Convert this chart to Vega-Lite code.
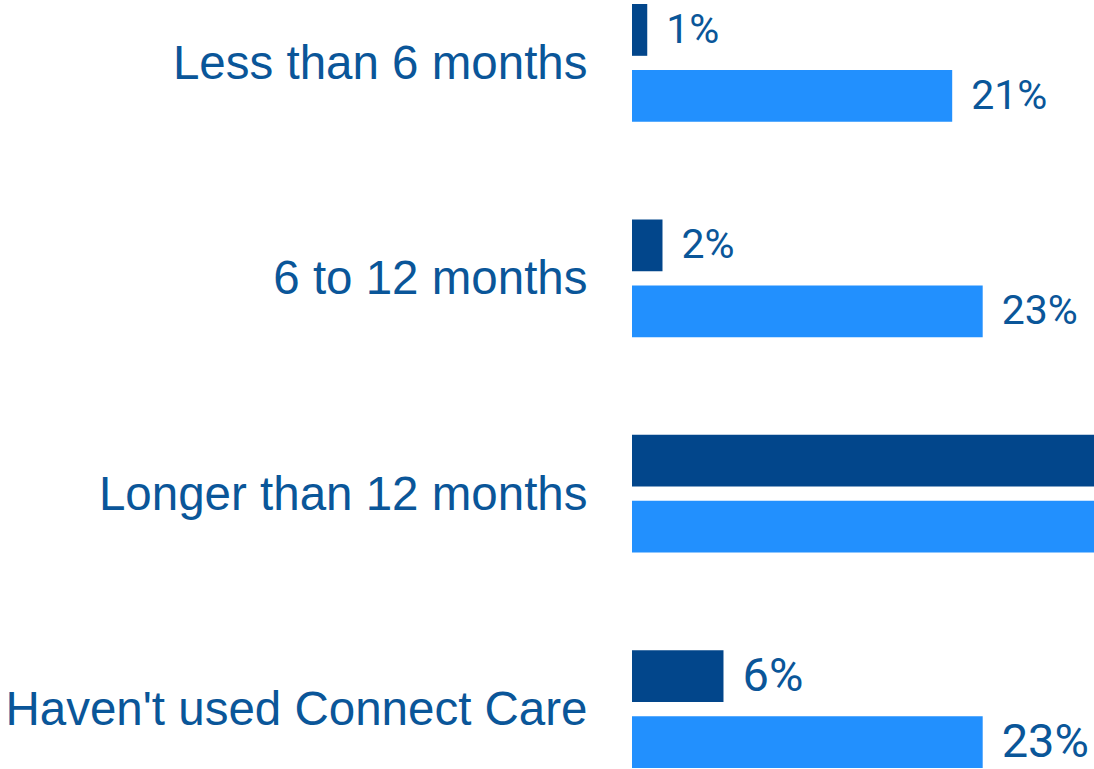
{
  "$schema": "https://vega.github.io/schema/vega-lite/v6.json",
  "autosize": {"type": "none"},
  "padding": {"left": 632, "top": 4, "right": 0, "bottom": 1},
  "width": 462,
  "height": 764,
  "background": "white",
  "config": {"view": {"stroke": null}},
  "data": {
    "values": [
      {"category": "Less than 6 months", "series": "A", "value": 1},
      {"category": "Less than 6 months", "series": "B", "value": 21},
      {"category": "6 to 12 months", "series": "A", "value": 2},
      {"category": "6 to 12 months", "series": "B", "value": 23},
      {"category": "Longer than 12 months", "series": "A", "value": 91},
      {"category": "Longer than 12 months", "series": "B", "value": 33},
      {"category": "Haven't used Connect Care", "series": "A", "value": 6},
      {"category": "Haven't used Connect Care", "series": "B", "value": 23}
    ]
  },
  "encoding": {
    "y": {
      "field": "category",
      "type": "nominal",
      "sort": ["Less than 6 months", "6 to 12 months", "Longer than 12 months", "Haven't used Connect Care"],
      "scale": {"paddingInner": 0.453, "paddingOuter": 0},
      "axis": {
        "title": null,
        "domain": false,
        "ticks": false,
        "labelFont": "Liberation Sans",
        "labelFontSize": 47.5,
        "labelColor": "#0a5699",
        "labelPadding": 45,
        "labelOffset": 2,
        "labelLimit": 700
      }
    },
    "yOffset": {
      "field": "series",
      "type": "nominal",
      "sort": ["A", "B"],
      "scale": {"paddingInner": 0.215, "paddingOuter": 0}
    },
    "x": {
      "field": "value",
      "type": "quantitative",
      "scale": {"domain": [0, 30.3], "nice": false, "zero": true},
      "axis": null
    }
  },
  "layer": [
    {
      "mark": {"type": "bar", "clip": true},
      "encoding": {
        "color": {
          "field": "series",
          "type": "nominal",
          "scale": {"domain": ["A", "B"], "range": ["#02468b", "#2290fe"]},
          "legend": null
        }
      }
    },
    {
      "transform": [
        {"filter": "datum.value <= 30"},
        {"calculate": "datum.value + '%'", "as": "label"}
      ],
      "mark": {
        "type": "text",
        "clip": true,
        "align": "left",
        "baseline": "middle",
        "dx": 19,
        "dy": 1,
        "font": "Roboto",
        "color": "#0a5699"
      },
      "encoding": {
        "text": {"field": "label", "type": "nominal"},
        "size": {
          "condition": {"test": "datum.category === \"Haven't used Connect Care\"", "value": 47},
          "value": 41
        },
        "detail": {"field": "series"}
      }
    }
  ]
}
